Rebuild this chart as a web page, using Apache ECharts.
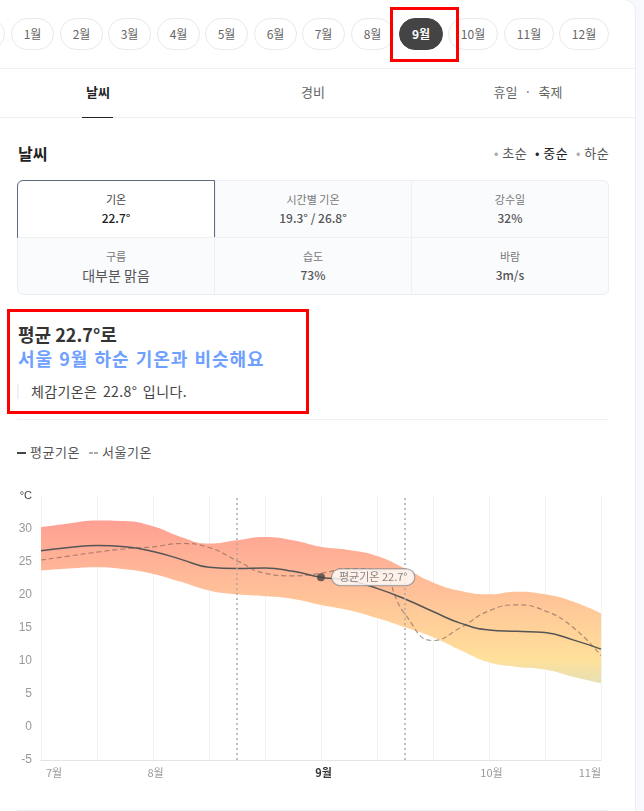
<!DOCTYPE html>
<html>
<head>
<meta charset="utf-8">
<style>
html,body{margin:0;padding:0;background:#f8f9fc;overflow:hidden}
body{width:644px;height:811px;position:relative;font-family:"Noto Sans CJK KR",sans-serif;color:#333}
#card{position:absolute;left:-20px;top:-1px;width:656px;height:830px;background:#fff;border:1px solid #eceef2;border-radius:0 12px 0 0;box-sizing:border-box}
.t{position:absolute;white-space:nowrap;line-height:20px;height:20px;transform:translate(-50%,-50%)}
.l{position:absolute;white-space:nowrap;line-height:20px;height:20px;transform:translateY(-50%)}
.pill{position:absolute;top:18px;height:32px;line-height:30px;box-sizing:border-box;border:1px solid #eaeaea;border-radius:17px;background:#fff;text-align:center;font-size:12px;color:#666}
.line{position:absolute;background:#eef0f3;height:1px}
.red{position:absolute;border:3px solid #f00;box-sizing:border-box}
#table{position:absolute;left:17px;top:180px;width:592px;height:115px;background:#fafbfd;border:1px solid #eceef2;border-radius:6px;box-sizing:border-box}
#chart{position:absolute;left:0;top:480px;width:636px;height:310px}
</style>
</head>
<body>
<div id="card"></div>
<div id="pills"></div>
<div class="red" style="left:390px;top:7px;width:69px;height:55px"></div>

<div class="line" style="left:0;top:68px;width:636px"></div>
<div class="t" style="left:98px;top:92px;font-size:13px;font-weight:700;color:#222">날씨</div>
<div class="t" style="left:313px;top:92px;font-size:13px;color:#666">경비</div>
<div class="t" style="left:528px;top:92px;font-size:13px;color:#666;word-spacing:4px">휴일 · 축제</div>
<div class="line" style="left:0;top:117px;width:636px"></div>
<div style="position:absolute;left:82px;top:117px;width:31px;height:1px;background:#222"></div>

<div class="l" style="left:18px;top:154px;font-size:16px;font-weight:700;color:#222;margin-top:-1px">날씨</div>
<div class="l" style="left:494px;top:153px;font-size:13px;color:#555;letter-spacing:.5px"><span style="color:#aaa">•</span> 초순</div>
<div class="l" style="left:535px;top:153px;font-size:13px;color:#222;letter-spacing:.5px"><span>•</span> 중순</div>
<div class="l" style="left:576px;top:153px;font-size:13px;color:#555;letter-spacing:.5px"><span style="color:#aaa">•</span> 하순</div>

<div id="table"></div>
<div style="position:absolute;left:17px;top:180px;width:198px;height:58px;background:#fff;border:1px solid #5e6a80;box-sizing:border-box;border-radius:6px 0 0 0"></div>
<div class="line" style="left:215px;top:237px;width:393px"></div>
<div class="line" style="left:18px;top:237px;width:197px"></div>
<div class="line" style="left:214px;top:238px;width:1px;height:56px"></div>
<div class="line" style="left:215px;top:181px;width:1px;height:56px"></div>
<div class="line" style="left:411px;top:181px;width:1px;height:113px"></div>
<div id="cells"></div>

<div class="red" style="left:7px;top:309px;width:302px;height:105px"></div>
<div class="l" style="left:18px;top:334px;font-size:18px;font-weight:700;color:#333">평균 22.7°로</div>
<div class="l" style="left:18px;top:358px;font-size:18px;font-weight:700;color:#6f9fff;letter-spacing:1px;word-spacing:1px">서울 9월 하순 기온과 비슷해요</div>
<div style="position:absolute;left:17px;top:384px;width:2px;height:15px;background:#f0f1f4"></div>
<div class="l" style="left:31px;top:391px;font-size:14px;color:#444;letter-spacing:.4px;word-spacing:2px">체감기온은 22.8° 입니다.</div>
<div class="line" style="left:17px;top:419px;width:592px"></div>

<div style="position:absolute;left:17px;top:452px;width:9px;height:2px;background:#444"></div>
<div class="l" style="left:30px;top:452px;font-size:13px;color:#555;letter-spacing:.5px">평균기온</div>
<div style="position:absolute;left:89px;top:452px;width:4px;height:2px;background:#aaa"></div>
<div style="position:absolute;left:94px;top:452px;width:4px;height:2px;background:#aaa"></div>
<div class="l" style="left:102px;top:452px;font-size:13px;color:#555;letter-spacing:.5px">서울기온</div>

<div id="chart"></div>
<div class="line" style="left:17px;top:810px;width:592px"></div>

<script src="https://cdn.jsdelivr.net/npm/echarts@6/dist/echarts.min.js"></script>
<script>
// 월 버튼
var months = ['1월','2월','3월','4월','5월','6월','7월','8월','9월','10월','11월','12월'];
var monthLeft = [11,60,108,157,205,254,302,351,399,448,504,559];
var monthWidth = [43,43,43,43,43,43,43,43,44,50,50,50];

// 카드
var cellNames = ['기온','시간별 기온','강수일','구름','습도','바람'];
var cellValues = ['22.7°','19.3° / 26.8°','32%','대부분 맑음','73%','3m/s'];
var cellX = [116,313,510,116,313,510];
var cellY = [199,199,199,256,256,256];

// 차트 데이터 (반달 간격, 7월 ~ 11월)
var categories = ['7월','','','','8월','','','','','','9월','','','','','','10월','','','','11월'];
var bandHigh = [30.3,30.85,31.3,31.2,30.4,28.8,27.8,28.3,28.8,28.3,27.3,26.8,25.9,24,21.9,20.6,20.1,20.5,20.1,19,17.2];
var bandLow = [23.7,24,24.2,23.9,23.2,22,20.7,20.1,19.8,19.4,18.5,17.7,16.5,15.1,13.6,11.6,9.8,9.1,8.7,7.6,6.6];
var meanTemp = [26.7,27.2,27.5,27.3,26.6,25.4,24.2,24,24.1,23.6,22.7,22.2,21,19.4,17.5,15.7,14.7,14.5,14.3,13.2,11.8];
var seoulTemp = [25.3,25.9,26.5,27,27.3,27.8,27.2,25.2,23.3,22.9,23.3,24,23.7,17.1,13.1,15.1,17.6,18.5,17.6,15.1,10.8];

var html = '<div class="pill" style="left:-38px;width:43px"></div>';
for(var i=0;i<months.length;i++){
	var on = months[i]=='9월';
	html += '<div class="pill" style="left:'+monthLeft[i]+'px;width:'+monthWidth[i]+'px;'+(on?'background:#444;border-color:#444;color:#fff;font-weight:700':'')+'">'+months[i]+'</div>';
}
document.getElementById('pills').innerHTML = html;

html = '';
for(var i=0;i<cellNames.length;i++){
	html += '<div class="t" style="left:'+cellX[i]+'px;top:'+cellY[i]+'px;font-size:11px;color:'+(i==0?'#444':'#777')+'">'+cellNames[i]+'</div>';
	html += '<div class="t" style="left:'+cellX[i]+'px;top:'+(cellY[i]+19)+'px;font-size:'+(i==3?14:12)+'px;color:'+(i==0?'#222':'#555')+';font-weight:'+(i==3?400:500)+'">'+cellValues[i]+'</div>';
}
document.getElementById('cells').innerHTML = html;

var bandSize = [];
for(var i=0;i<bandHigh.length;i++){
	bandSize.push(+(bandHigh[i]-bandLow[i]).toFixed(2));
}

var myChart = echarts.init(document.getElementById('chart'));
var option = {
	animation:false,
	grid:{left:41,top:16,width:560,height:264},
	xAxis:{
		type:'category',
		boundaryGap:false,
		data:categories,
		axisTick:{show:false},
		axisLine:{onZero:false,lineStyle:{color:'#e4e4e6'}},
		axisLabel:{
			interval:0,
			alignMinLabel:'left',
			alignMaxLabel:'right',
			margin:7,
			fontSize:11,
			color:'#999',
			padding:[0,0,0,5],
			fontFamily:'Noto Sans CJK KR',
			formatter:function(v){ return v=='9월' ? '{b|'+v+'}' : v; },
			rich:{b:{fontSize:11,fontWeight:'bold',color:'#333',fontFamily:'Noto Sans CJK KR'}}
		},
		splitLine:{
			show:true,
			interval:function(i){ return i%2==0; },
			lineStyle:{color:'#f2f2f4'}
		}
	},
	yAxis:{
		type:'value',
		min:-5,
		max:35,
		interval:5,
		axisLine:{show:false},
		axisTick:{show:false},
		splitLine:{show:false},
		axisLabel:{
			margin:9,
			fontSize:12,
			color:'#999',
			fontFamily:'Liberation Sans',
			formatter:function(v){ return v==35 ? '{u|°C}' : v; },
			rich:{u:{fontSize:11,color:'#444',fontFamily:'Liberation Sans'}}
		}
	},
	series:[
		{
			type:'line',
			stack:'band',
			data:bandLow,
			smooth:true,
			symbol:'none',
			silent:true,
			lineStyle:{width:0},
			markLine:{
				silent:true,
				symbol:'none',
				label:{show:false},
				lineStyle:{color:'#aaa',type:[2,3],width:1.5},
				data:[{xAxis:7},{xAxis:13}]
			}
		},
		{
			type:'line',
			stack:'band',
			data:bandSize,
			smooth:true,
			symbol:'none',
			silent:true,
			lineStyle:{width:0},
			areaStyle:{
				opacity:1,
				color:new echarts.graphic.LinearGradient(0,0,0,1,[
					{offset:0,color:'#ffa094'},
					{offset:0.42,color:'#ffbf98'},
					{offset:0.85,color:'#ffe09a'},
					{offset:1,color:'#e6e0b4'}
				])
			}
		},
		{
			type:'line',
			data:seoulTemp,
			smooth:true,
			symbol:'none',
			lineStyle:{color:'rgba(130,100,90,0.65)',width:1.2,type:[5,3]}
		},
		{
			type:'line',
			data:meanTemp,
			smooth:true,
			symbol:'none',
			lineStyle:{color:'#555',width:1.5}
		},
		{
			type:'scatter',
			z:10,
			data:[[10,meanTemp[10]]],
			symbolSize:8,
			itemStyle:{color:'#444'},
			label:{
				show:true,
				position:'right',
				distance:7,
				formatter:'평균기온 22.7°',
				fontSize:11,
				fontFamily:'Noto Sans CJK KR',
				color:'#666',
				backgroundColor:'#fff',
				borderColor:'#888',
				borderWidth:1,
				borderRadius:9,
				padding:[3,7,2,7]
			}
		}
	]
};
myChart.setOption(option);
</script>
</body>
</html>
